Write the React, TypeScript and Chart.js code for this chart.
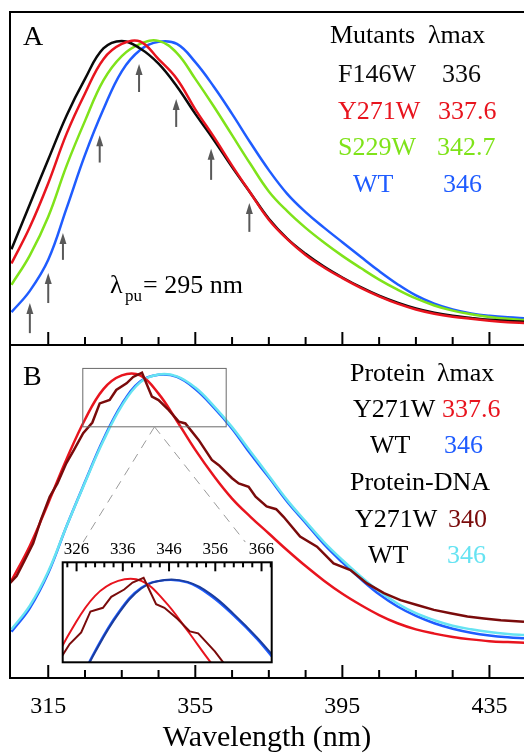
import React, { useEffect, useRef } from "react";
import { Chart, registerables } from "chart.js";
Chart.register(...registerables);

const FONT = '"Liberation Serif", "Times New Roman", Times, serif';

const BLACK = "#0a0a0a";
const RED = "#e8141e";
const GREEN = "#7fe31a";
const BLUE = "#1f5cff";
const DARKRED = "#7a0b0b";
const CYAN = "#66e3f2";
const NAVY = "#1b3d9e";
const ARROW = "#595959";

// ---------- data ----------
const WAVELENGTH = [305, 310, 315, 320, 325, 330, 335, 340, 345, 350, 355, 360, 365, 370, 375, 380, 385, 390, 395, 400, 405, 410, 415, 420, 425, 430, 435, 440, 445];

// Panel A (mutants)
const F146W = [0.315, 0.463, 0.61, 0.755, 0.875, 0.975, 1.0, 0.975, 0.925, 0.85, 0.76, 0.675, 0.585, 0.5, 0.415, 0.35, 0.3, 0.258, 0.222, 0.19, 0.162, 0.139, 0.12, 0.106, 0.096, 0.089, 0.083, 0.079, 0.076];
const Y271W_A = [0.268, 0.388, 0.532, 0.695, 0.827, 0.94, 0.99, 0.998, 0.94, 0.875, 0.775, 0.685, 0.59, 0.5, 0.412, 0.348, 0.296, 0.255, 0.22, 0.188, 0.16, 0.136, 0.117, 0.103, 0.093, 0.086, 0.08, 0.075, 0.072];
const S229W = [0.198, 0.295, 0.422, 0.59, 0.737, 0.87, 0.95, 0.99, 1.0, 0.96, 0.875, 0.785, 0.69, 0.595, 0.505, 0.44, 0.385, 0.337, 0.293, 0.253, 0.215, 0.182, 0.153, 0.13, 0.113, 0.101, 0.092, 0.086, 0.082];
const WT_A = [0.108, 0.178, 0.28, 0.45, 0.625, 0.775, 0.9, 0.97, 0.997, 0.99, 0.93, 0.85, 0.76, 0.665, 0.575, 0.497, 0.437, 0.386, 0.338, 0.29, 0.243, 0.2, 0.163, 0.136, 0.117, 0.104, 0.096, 0.091, 0.088];

// Panel B (protein / protein-DNA)
const Y271W_B = [0.32, 0.435, 0.575, 0.72, 0.85, 0.95, 0.995, 0.995, 0.935, 0.845, 0.75, 0.665, 0.59, 0.53, 0.475, 0.42, 0.368, 0.32, 0.277, 0.24, 0.207, 0.18, 0.16, 0.146, 0.135, 0.127, 0.121, 0.118, 0.116];
const WT_B = [0.152, 0.23, 0.345, 0.5, 0.645, 0.785, 0.9, 0.975, 0.997, 0.99, 0.95, 0.89, 0.82, 0.737, 0.66, 0.58, 0.51, 0.44, 0.38, 0.325, 0.275, 0.235, 0.204, 0.18, 0.162, 0.149, 0.14, 0.134, 0.13];
const WT_DNA = [0.16, 0.238, 0.35, 0.5, 0.643, 0.78, 0.895, 0.972, 0.998, 0.992, 0.955, 0.895, 0.825, 0.745, 0.665, 0.585, 0.515, 0.447, 0.388, 0.334, 0.285, 0.245, 0.213, 0.19, 0.172, 0.16, 0.151, 0.145, 0.141];
const Y271W_DNA_WL = [304.6, 306.4, 308.5, 310.9, 313, 315.4, 317.5, 319.9, 322, 324.5, 327, 329, 331.7, 333.5, 336.3, 338.1, 340.5, 343.2, 345, 347.8, 350.5, 352.3, 355.9, 359.5, 361.4, 365, 366.8, 369.5, 371.4, 374.4, 377, 379, 383.5, 388.1, 392.6, 397.2, 401.7, 406.3, 410.8, 415.3, 419.9, 424.4, 429, 433.5, 438.1, 444.4];
const Y271W_DNA = [0.312, 0.335, 0.385, 0.443, 0.52, 0.596, 0.64, 0.706, 0.75, 0.805, 0.84, 0.903, 0.914, 0.947, 0.969, 0.99, 1.004, 0.925, 0.914, 0.881, 0.843, 0.837, 0.783, 0.717, 0.7, 0.657, 0.64, 0.629, 0.596, 0.564, 0.555, 0.53, 0.465, 0.432, 0.377, 0.355, 0.311, 0.279, 0.256, 0.24, 0.224, 0.213, 0.202, 0.196, 0.19, 0.185];

// probe arrows (panel A)
const ARROW_WL = [310, 315, 319, 329, 339.7, 349.8, 359.3, 369.7];
const ARROW_TIP = [0.138, 0.237, 0.368, 0.69, 0.924, 0.809, 0.645, 0.467];
const ARROW_TAIL = [0.039, 0.138, 0.28, 0.6, 0.832, 0.717, 0.543, 0.372];

// axes
const X_TICKS = [315, 325, 335, 345, 355, 365, 375, 385, 395, 405, 415, 425, 435];
const X_LABELS = [315, 355, 395, 435];
const INSET_TICKS = [324, 326, 328, 330, 332, 334, 336, 338, 340, 342, 344, 346, 348, 350, 352, 354, 356, 358, 360, 362, 364, 366, 368];
const INSET_LABELS = [326, 336, 346, 356, 366];

// annotation texts: [text, x, baseline, size, color]
const TEXTS: [string, number, number, number, string][] = [
  ["A", 23, 45, 28, "#000"],
  ["Mutants", 330, 43.3, 26, "#000"],
  ["λmax", 428, 43.3, 26, "#000"],
  ["F146W", 338, 81.7, 26, BLACK],
  ["336", 442, 81.7, 26, BLACK],
  ["Y271W", 338, 119, 26, RED],
  ["337.6", 438, 119, 26, RED],
  ["S229W", 338, 155, 26, GREEN],
  ["342.7", 437, 155, 26, GREEN],
  ["WT", 353, 191.7, 26, BLUE],
  ["346", 443, 191.7, 26, BLUE],
  ["λ", 110, 292.7, 26, "#000"],
  ["pu", 125, 301, 17, "#000"],
  ["= 295 nm", 143, 292.7, 26, "#000"],
  ["B", 23, 385, 28, "#000"],
  ["Protein", 350, 380.7, 26, "#000"],
  ["λmax", 437, 380.7, 26, "#000"],
  ["Y271W", 353, 417.3, 26, "#000"],
  ["337.6", 442, 417.3, 26, RED],
  ["WT", 370, 452.7, 26, "#000"],
  ["346", 444, 452.7, 26, BLUE],
  ["Protein-DNA", 350, 490, 26, "#000"],
  ["Y271W", 355, 526.7, 26, "#000"],
  ["340", 448, 526.7, 26, DARKRED],
  ["WT", 368, 563.3, 26, "#000"],
  ["346", 447, 563.3, 26, CYAN],
];

// zoom window drawn in panel B (data coords)
const ZOOM_X = [324.4, 363.4];
const ZOOM_Y = [0.826, 1.018];
const ZOOM_APEX = 343.9;
const ZOOM_FEET_X = [324.5, 368.6];
const ZOOM_FEET_Y = 0.447;

function line(label: string, wl: number[], vals: number[], color: string, axis: string, width = 2.5, smooth = true) {
  return {
    label,
    data: wl.map((x, i) => ({ x, y: vals[i] })),
    borderColor: color,
    backgroundColor: color,
    borderWidth: width,
    pointRadius: 0,
    yAxisID: axis,
    fill: false,
    tension: smooth ? 0.4 : 0,
  } as any;
}

const hiddenY = (extra: any) => ({
  type: "linear",
  display: true,
  ticks: { display: false },
  grid: { display: false, drawTicks: false },
  border: { display: false },
  afterFit: (s: any) => {
    s.width = 0;
  },
  ...extra,
});

const mainPlugin = {
  id: "mainDecor",
  afterDatasetsDraw(chart: any) {
    const { ctx, chartArea, scales } = chart;
    const x = scales.x;
    const yA = scales.yA;
    const yB = scales.yB;
    ctx.save();

    // arrows
    ctx.strokeStyle = ARROW;
    ctx.fillStyle = ARROW;
    ctx.lineWidth = 2;
    ARROW_WL.forEach((w, i) => {
      const px = x.getPixelForValue(w);
      const tip = yA.getPixelForValue(ARROW_TIP[i]);
      const tail = yA.getPixelForValue(ARROW_TAIL[i]);
      ctx.beginPath();
      ctx.moveTo(px, tail);
      ctx.lineTo(px, tip + 8);
      ctx.stroke();
      ctx.beginPath();
      ctx.moveTo(px, tip);
      ctx.lineTo(px - 3.5, tip + 11);
      ctx.lineTo(px + 3.5, tip + 11);
      ctx.closePath();
      ctx.fill();
    });

    // zoom window
    ctx.strokeStyle = "#6a6a6a";
    ctx.lineWidth = 1;
    const rx0 = x.getPixelForValue(ZOOM_X[0]);
    const rx1 = x.getPixelForValue(ZOOM_X[1]);
    const ry0 = yB.getPixelForValue(ZOOM_Y[1]);
    const ry1 = yB.getPixelForValue(ZOOM_Y[0]);
    ctx.strokeRect(rx0, ry0, rx1 - rx0, ry1 - ry0);
    ctx.strokeStyle = "#9a9a9a";
    ctx.setLineDash([9, 7]);
    const ax = x.getPixelForValue(ZOOM_APEX);
    const fy = yB.getPixelForValue(ZOOM_FEET_Y);
    ZOOM_FEET_X.forEach((fx) => {
      ctx.beginPath();
      ctx.moveTo(ax, ry1);
      ctx.lineTo(x.getPixelForValue(fx), fy);
      ctx.stroke();
    });
    ctx.setLineDash([]);

    // frames + inward ticks
    ctx.strokeStyle = "#000";
    ctx.lineWidth = 2;
    [yA, yB].forEach((s) => {
      ctx.strokeRect(chartArea.left, s.top, chartArea.right - chartArea.left + 8, s.bottom - s.top);
      X_TICKS.forEach((v) => {
        const px = x.getPixelForValue(v);
        const len = X_LABELS.includes(v) ? 13 : 8;
        ctx.beginPath();
        ctx.moveTo(px, s.bottom);
        ctx.lineTo(px, s.bottom - len);
        ctx.stroke();
      });
    });

    // texts
    ctx.textAlign = "left";
    ctx.textBaseline = "alphabetic";
    TEXTS.forEach(([t, tx, ty, size, color]) => {
      ctx.font = `${size}px ${FONT}`;
      ctx.fillStyle = color;
      ctx.fillText(t, tx, ty);
    });
    ctx.restore();
  },
};

const insetPlugin = {
  id: "insetDecor",
  beforeDatasetsDraw(chart: any) {
    const { ctx, chartArea } = chart;
    ctx.save();
    ctx.fillStyle = "#fff";
    ctx.fillRect(chartArea.left, chartArea.top, chartArea.right - chartArea.left, chartArea.bottom - chartArea.top);
    ctx.restore();
  },
  afterDatasetsDraw(chart: any) {
    const { ctx, chartArea, scales } = chart;
    ctx.save();
    ctx.strokeStyle = "#000";
    ctx.lineWidth = 2;
    ctx.strokeRect(chartArea.left, chartArea.top, chartArea.right - chartArea.left, chartArea.bottom - chartArea.top);
    INSET_TICKS.forEach((v) => {
      const px = scales.x.getPixelForValue(v);
      const len = INSET_LABELS.includes(v) ? 9 : 5;
      ctx.beginPath();
      ctx.moveTo(px, chartArea.top);
      ctx.lineTo(px, chartArea.top + len);
      ctx.stroke();
    });
    ctx.restore();
  },
};

export default function App() {
  const mainRef = useRef<HTMLCanvasElement>(null);
  const insetRef = useRef<HTMLCanvasElement>(null);

  useEffect(() => {
    const main = new Chart(mainRef.current as HTMLCanvasElement, {
      type: "line",
      data: {
        datasets: [
          line("Y271W", WAVELENGTH, Y271W_A, RED, "yA"),
          line("F146W", WAVELENGTH, F146W, BLACK, "yA"),
          line("S229W", WAVELENGTH, S229W, GREEN, "yA"),
          line("WT", WAVELENGTH, WT_A, BLUE, "yA"),
          line("Y271W-DNA", Y271W_DNA_WL, Y271W_DNA, DARKRED, "yB", 2.5, false),
          line("Y271W protein", WAVELENGTH, Y271W_B, RED, "yB"),
          line("WT-DNA", WAVELENGTH, WT_DNA, CYAN, "yB"),
          line("WT protein", WAVELENGTH, WT_B, BLUE, "yB"),
        ],
      },
      options: {
        animation: false,
        responsive: false,
        devicePixelRatio: 1,
        layout: { padding: { left: 10, top: 12, right: 0, bottom: 0 } },
        plugins: { legend: { display: false }, tooltip: { enabled: false } },
        scales: {
          x: {
            type: "linear",
            position: "bottom",
            min: 304.6,
            max: 444.4,
            afterBuildTicks: (s: any) => {
              s.ticks = X_TICKS.map((v) => ({ value: v }));
            },
            ticks: {
              autoSkip: false,
              maxRotation: 0,
              padding: 14.6,
              color: "#000",
              font: { family: FONT, size: 24 },
              callback: (v: any) => (X_LABELS.includes(Number(v)) ? String(v) : ""),
            },
            grid: { display: false, drawTicks: false },
            border: { display: false },
            title: {
              display: true,
              text: "Wavelength (nm)",
              color: "#000",
              font: { family: FONT, size: 30, lineHeight: 1.0 },
              padding: { top: -13, bottom: 0 },
            },
          },
          yB: hiddenY({ position: "left", stack: "panels", stackWeight: 1, min: 0, max: 1.095 }),
          yA: hiddenY({ position: "left", stack: "panels", stackWeight: 1, min: 0, max: 1.095 }),
        } as any,
      },
      plugins: [mainPlugin],
    } as any);

    const inset = new Chart(insetRef.current as HTMLCanvasElement, {
      type: "line",
      data: {
        datasets: [
          line("Y271W-DNA", Y271W_DNA_WL, Y271W_DNA, DARKRED, "y", 2, false),
          line("Y271W protein", WAVELENGTH, Y271W_B, RED, "y", 2),
          line("WT-DNA", WAVELENGTH, WT_DNA, NAVY, "y", 2),
          line("WT protein", WAVELENGTH, WT_B, BLUE, "y", 2),
        ],
      },
      options: {
        animation: false,
        responsive: false,
        devicePixelRatio: 1,
        layout: { padding: { left: 7.7, top: 3.9, right: 5.3, bottom: 1.7 } },
        plugins: { legend: { display: false }, tooltip: { enabled: false } },
        scales: {
          x: {
            type: "linear",
            position: "top",
            min: 323,
            max: 368.2,
            afterBuildTicks: (s: any) => {
              s.ticks = INSET_TICKS.map((v) => ({ value: v }));
            },
            ticks: {
              autoSkip: false,
              maxRotation: 0,
              padding: 3,
              color: "#000",
              font: { family: FONT, size: 17 },
              callback: (v: any) => (INSET_LABELS.includes(Number(v)) ? String(v) : ""),
            },
            grid: { display: false, drawTicks: false },
            border: { display: false },
          },
          y: hiddenY({ position: "left", min: 0.75, max: 1.051 }),
        } as any,
      },
      plugins: [insetPlugin],
    } as any);

    return () => {
      main.destroy();
      inset.destroy();
    };
  }, []);

  return (
    <div style={{ position: "absolute", left: 0, top: 0, width: 524, height: 753, background: "#fff" }}>
      <canvas ref={mainRef} width={524} height={753} style={{ position: "absolute", left: 0, top: 0 }} />
      <canvas ref={insetRef} width={222} height={132} style={{ position: "absolute", left: 55, top: 532 }} />
    </div>
  );
}
